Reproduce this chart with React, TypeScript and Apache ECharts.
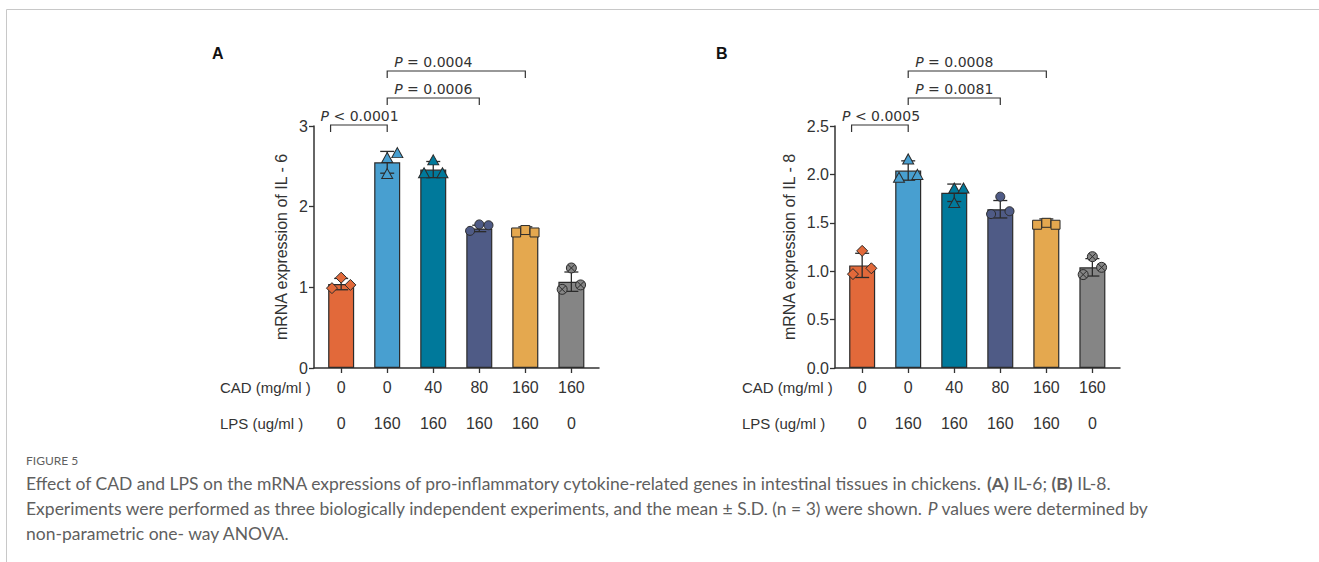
import React, { useEffect, useRef } from "react";
import * as echarts from "echarts";

// ---------- data ----------
const cadLabels = ["0", "0", "40", "80", "160", "160"];
const lpsLabels = ["0", "160", "160", "160", "160", "0"];
const groupIndex = [0, 1, 2, 3, 4, 5];

const il6Ticks = [0, 1, 2, 3];
const il6Mean = [1.04, 2.55, 2.46, 1.73, 1.72, 1.07];
const il6Sd = [0.07, 0.135, 0.1, 0.04, 0.03, 0.12];
const il6Points = [
  [0.99, 1.12, 1.03],
  [2.41, 2.61, 2.67],
  [2.42, 2.58, 2.42],
  [1.7, 1.78, 1.77],
  [1.68, 1.71, 1.68],
  [0.975, 1.24, 1.03],
];
const il6Jitter = [
  [-0.2, 0, 0.2],
  [0, 0, 0.22],
  [-0.2, 0, 0.2],
  [-0.2, 0, 0.2],
  [-0.2, 0, 0.2],
  [-0.2, 0, 0.2],
];
const il6Brackets = [
  { from: -0.23, to: 1, level: 0, labelAt: 0.4, p: "P < 0.0001" },
  { from: 1, to: 3, level: 1, labelAt: 2.0, p: "P = 0.0006" },
  { from: 1, to: 4, level: 2, labelAt: 2.0, p: "P = 0.0004" },
];

const il8Ticks = [0, 0.5, 1, 1.5, 2, 2.5];
const il8Mean = [1.06, 2.04, 1.81, 1.64, 1.52, 1.04];
const il8Sd = [0.125, 0.1, 0.09, 0.09, 0.02, 0.09];
const il8Points = [
  [0.97, 1.21, 1.03],
  [1.97, 2.16, 2.0],
  [1.86, 1.86, 1.71],
  [1.59, 1.77, 1.62],
  [1.48, 1.5, 1.48],
  [0.965, 1.15, 1.04],
];
const il8Jitter = [
  [-0.2, 0, 0.2],
  [-0.2, 0, 0.2],
  [0, 0.2, 0],
  [-0.2, 0, 0.2],
  [-0.2, 0, 0.2],
  [-0.2, 0, 0.2],
];
const il8Brackets = [
  { from: -0.23, to: 1, level: 0, labelAt: 0.41, p: "P < 0.0005" },
  { from: 1, to: 3, level: 1, labelAt: 2.0, p: "P = 0.0081" },
  { from: 1, to: 4, level: 2, labelAt: 2.0, p: "P = 0.0008" },
];

// ---------- styles ----------
const groupColors = ["#e2693a", "#489fd0", "#00799b", "#4f5b86", "#e4a84f", "#858585"];
const crossCircle =
  "path://M10,0A10,10,0,1,1,10,20A10,10,0,1,1,10,0ZM2.9,2.9L17.1,17.1M17.1,2.9L2.9,17.1";
const groupSymbols = ["diamond", "triangle", "triangle", "circle", "rect", crossCircle];
const groupSymbolSizes: any[] = [11, [11, 10], [11, 10], 9, 9, 10];
const ink = "#2b2b2b";
const axisFont = "'Liberation Sans', Arial, sans-serif";

function panelSeries(
  gi: number,
  means: number[],
  sds: number[],
  points: number[][],
  jitter: number[][],
  brackets: any[],
  yMax: number
) {
  const bar = {
    type: "bar",
    xAxisIndex: gi,
    yAxisIndex: gi,
    barWidth: 26,
    z: 2,
    silent: true,
    itemStyle: { borderColor: ink, borderWidth: 1.2 },
    data: means.map((m, i) => ({ value: [groupIndex[i], m], itemStyle: { color: groupColors[i] } })),
  };
  const err = {
    type: "custom",
    xAxisIndex: gi,
    yAxisIndex: gi,
    z: 3,
    clip: false,
    silent: true,
    data: means.map((m, i) => [groupIndex[i], m, sds[i]]),
    renderItem: (params: any, api: any) => {
      const x = api.value(0);
      const m = api.value(1);
      const s = api.value(2);
      const t = api.coord([x, m + s]);
      const b = api.coord([x, m - s]);
      const c = 7;
      const ls = { stroke: ink, lineWidth: 1.3 };
      return {
        type: "group",
        children: [
          { type: "line", shape: { x1: t[0], y1: t[1], x2: b[0], y2: b[1] }, style: ls },
          { type: "line", shape: { x1: t[0] - c, y1: t[1], x2: t[0] + c, y2: t[1] }, style: ls },
          { type: "line", shape: { x1: b[0] - c, y1: b[1], x2: b[0] + c, y2: b[1] }, style: ls },
        ],
      };
    },
  };
  const pts: any[] = [];
  points.forEach((vals, i) => {
    vals.forEach((v, k) => {
      pts.push({
        value: [groupIndex[i] + jitter[i][k], v],
        symbol: groupSymbols[i],
        symbolSize: groupSymbolSizes[i],
        itemStyle: { color: groupColors[i] },
      });
    });
  });
  const scatter = {
    type: "scatter",
    xAxisIndex: gi,
    yAxisIndex: gi,
    z: 4,
    silent: true,
    itemStyle: { borderColor: ink, borderWidth: 1, opacity: 1 },
    data: pts,
  };
  const br = {
    type: "custom",
    xAxisIndex: gi,
    yAxisIndex: gi,
    z: 5,
    clip: false,
    silent: true,
    data: brackets.map((b) => [b.from, b.to, b.level, b.labelAt]),
    renderItem: (params: any, api: any) => {
      const b = brackets[params.dataIndex];
      const top = api.coord([0, yMax])[1];
      const y = top - 1 - b.level * 27;
      const x1 = api.coord([api.value(0), 0])[0];
      const x2 = api.coord([api.value(1), 0])[0];
      const lx = api.coord([api.value(3), 0])[0];
      const rest = b.p.slice(1);
      return {
        type: "group",
        children: [
          {
            type: "polyline",
            shape: { points: [[x1, y + 7], [x1, y], [x2, y], [x2, y + 7]] },
            style: { stroke: "#333", lineWidth: 1.2, fill: "none" },
          },
          {
            type: "text",
            x: lx,
            y: y - 9,
            style: {
              text: "{i|P}{n|" + rest + "}",
              rich: {
                i: { fontStyle: "italic", fontSize: 14, fontFamily: "'DejaVu Sans'", fill: "#333" },
                n: { fontSize: 14, fontFamily: "'DejaVu Sans'", fill: "#333" },
              },
              fontSize: 14,
              fontFamily: "'DejaVu Sans'",
              fill: "#333",
              align: "center",
              verticalAlign: "middle",
              textAlign: "center",
              textVerticalAlign: "middle",
            },
          },
        ],
      };
    },
  };
  return [bar, err, scatter, br];
}

function xAxisFor(gi: number) {
  return {
    type: "value",
    gridIndex: gi,
    min: -0.59,
    max: 5.6,
    splitLine: { show: false },
    axisLine: { show: true, onZero: false, lineStyle: { color: "#333", width: 1.5 } },
    axisTick: { show: true, length: 5, customValues: groupIndex, lineStyle: { color: "#333", width: 1.3 } },
    axisLabel: {
      customValues: groupIndex,
      margin: 1,
      formatter: (v: number) => {
        const i = Math.round(v);
        return "{a|" + cadLabels[i] + "}\n{b|" + lpsLabels[i] + "}";
      },
      rich: {
        a: { fontSize: 16, lineHeight: 36, fontFamily: axisFont, color: "#333" },
        b: { fontSize: 16, lineHeight: 36, fontFamily: axisFont, color: "#333" },
      },
    },
  };
}

function yAxisFor(gi: number, ticks: number[], name: string, gap: number, dec: number) {
  return {
    type: "value",
    gridIndex: gi,
    min: ticks[0],
    max: ticks[ticks.length - 1],
    interval: ticks[1] - ticks[0],
    name,
    nameLocation: "middle",
    nameGap: gap,
    nameTextStyle: { fontSize: 16, fontFamily: axisFont, color: "#333" },
    splitLine: { show: false },
    axisLine: { show: true, onZero: false, lineStyle: { color: "#333", width: 1.5 } },
    axisTick: { show: true, length: 5, lineStyle: { color: "#333", width: 1.3 } },
    axisLabel: {
      fontSize: 16,
      fontFamily: axisFont,
      color: "#333",
      margin: 6,
      formatter: (v: number) => v.toFixed(dec),
    },
  };
}

function txt(text: string, x: number, y: number, extra: any = {}) {
  return {
    type: "text",
    x,
    y,
    silent: true,
    style: Object.assign(
      {
        text,
        fontSize: 15,
        fontFamily: axisFont,
        fill: "#333",
        textAlign: "left",
        textVerticalAlign: "middle",
      },
      extra
    ),
  };
}

const captionFont = "Lato, 'Open Sans', sans-serif";
const capSize = 17.5;
const capColor = "#5f5f5f";
const capRich = {
  b: { fontWeight: "bold", fontSize: capSize, fontFamily: captionFont, fill: capColor },
  i: { fontStyle: "italic", fontSize: capSize, fontFamily: captionFont, fill: capColor },
};

export default function App() {
  const ref = useRef<HTMLDivElement>(null);
  useEffect(() => {
    if (!ref.current) return;
    const chart = echarts.init(ref.current, undefined, { renderer: "svg" });
    const option: any = {
      animation: false,
      backgroundColor: "#ffffff",
      grid: [
        { left: 314, top: 126, width: 285, height: 242 },
        { left: 835, top: 126, width: 285, height: 242 },
      ],
      xAxis: [xAxisFor(0), xAxisFor(1)],
      yAxis: [
        yAxisFor(0, il6Ticks, "mRNA expression of IL - 6", 25, 0),
        yAxisFor(1, il8Ticks, "mRNA expression of IL - 8", 38, 1),
      ],
      series: [
        ...panelSeries(0, il6Mean, il6Sd, il6Points, il6Jitter, il6Brackets, il6Ticks[il6Ticks.length - 1]),
        ...panelSeries(1, il8Mean, il8Sd, il8Points, il8Jitter, il8Brackets, il8Ticks[il8Ticks.length - 1]),
      ],
      graphic: [
        { type: "line", silent: true, shape: { x1: 6.5, y1: 9.5, x2: 1319, y2: 9.5 }, style: { stroke: "#c8c8c8", lineWidth: 1 } },
        { type: "line", silent: true, shape: { x1: 6.5, y1: 9.5, x2: 6.5, y2: 562 }, style: { stroke: "#c8c8c8", lineWidth: 1 } },
        txt("A", 212, 53, { fontSize: 16, fontWeight: "bold", fill: "#111" }),
        txt("B", 716, 53, { fontSize: 16, fontWeight: "bold", fill: "#111" }),
        txt("CAD (mg/ml )", 220, 387),
        txt("LPS (ug/ml )", 220, 423),
        txt("CAD (mg/ml )", 742, 387),
        txt("LPS (ug/ml )", 742, 423),
        txt("FIGURE 5", 26, 460, { fontSize: 12, fontFamily: captionFont, fill: capColor }),
        txt(
          "Effect of CAD and LPS on the mRNA expressions of pro-inflammatory cytokine-related genes in intestinal tissues in chickens. {b|(A)} IL-6; {b|(B)} IL-8.",
          26,
          483,
          { fontSize: capSize, fontFamily: captionFont, fill: capColor, rich: capRich }
        ),
        txt(
          "Experiments were performed as three biologically independent experiments, and the mean ± S.D. (n = 3) were shown. {i|P} values were determined by",
          26,
          508,
          { fontSize: capSize, fontFamily: captionFont, fill: capColor, rich: capRich }
        ),
        txt("non-parametric one- way ANOVA.", 26, 533, { fontSize: capSize, fontFamily: captionFont, fill: capColor }),
      ],
    };
    chart.setOption(option);
    return () => chart.dispose();
  }, []);
  return (
    <div
      ref={ref}
      style={{ position: "absolute", left: 0, top: 0, width: 1319, height: 562, background: "#fff" }}
    />
  );
}
